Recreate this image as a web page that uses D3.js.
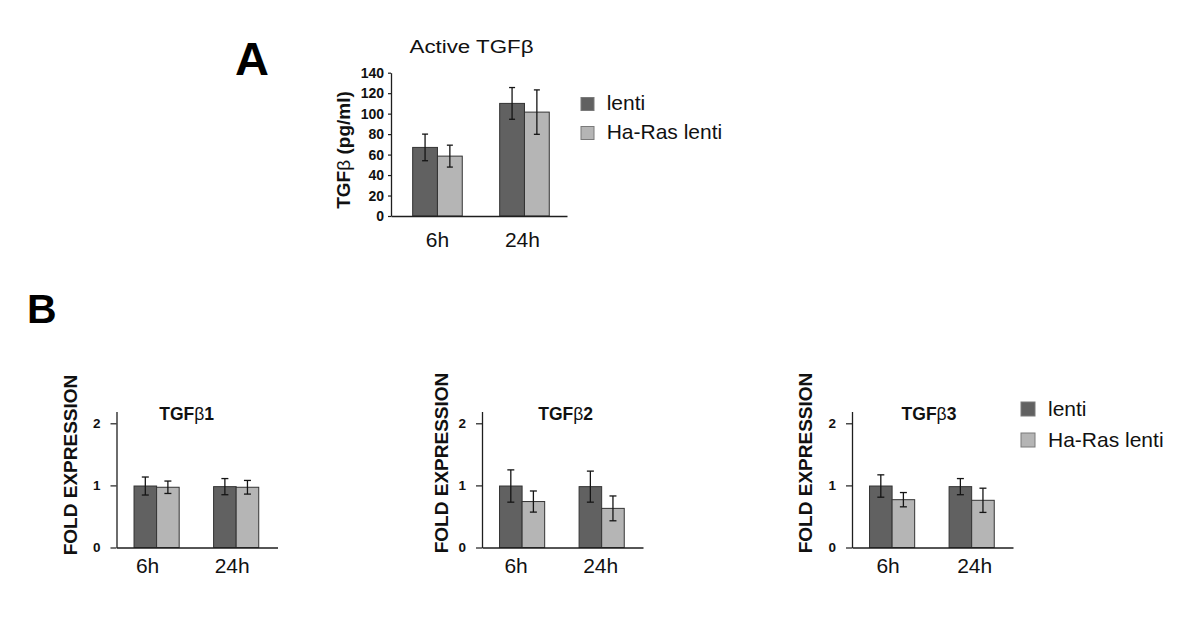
<!DOCTYPE html>
<html>
<head>
<meta charset="utf-8">
<script src="https://cdn.jsdelivr.net/npm/d3@7"></script>
<style>
  html, body { margin: 0; padding: 0; background: #fff; }
  svg { display: block; font-family: "Liberation Sans", Arial, sans-serif; }
</style>
</head>
<body>
<svg id="chart" width="1200" height="619"></svg>
<script>
// ---------- DATA ----------
const groups = ["6h", "24h"];
const seriesNames = ["lenti", "Ha-Ras lenti"];

// Panel A: Active TGFβ (pg/ml)
const activeLenti = [67, 110];
const activeLentiErr = [13, 15.5];
const activeRas = [58.5, 101.5];
const activeRasErr = [10.7, 21.7];
const activeTicks = [0, 20, 40, 60, 80, 100, 120, 140];

// Panel B: fold expression
const panelTitles = ["1", "2", "3"]; // TGFβ + suffix
const foldLenti = [[0.99, 0.98], [0.99, 0.98], [0.99, 0.98]];
const foldLentiErr = [[0.145, 0.13], [0.26, 0.25], [0.18, 0.13]];
const foldRas = [[0.97, 0.97], [0.74, 0.63], [0.77, 0.76]];
const foldRasErr = [[0.10, 0.11], [0.17, 0.20], [0.115, 0.195]];
const foldTicks = [0, 1, 2];

// ---------- STYLE / LAYOUT ----------
const colors = ["#616161", "#b5b5b5"];
const legendStroke = "#7a7a7a";
const barStroke = "#333";
const axisColor = "#1e1e1e";

const svg = d3.select("#chart");

function drawErr(g, cx, yv, e, y, cap) {
  g.append("line").attr("x1", cx).attr("x2", cx)
    .attr("y1", y(yv + e)).attr("y2", y(yv - e))
    .attr("stroke", "#151515").attr("stroke-width", 1.3);
  [yv + e, yv - e].forEach(v => {
    g.append("line").attr("x1", cx - cap).attr("x2", cx + cap)
      .attr("y1", y(v)).attr("y2", y(v))
      .attr("stroke", "#151515").attr("stroke-width", 1.3);
  });
}

function drawPanel(opt) {
  const g = svg.append("g");
  const x = d3.scaleBand().domain(groups).range([opt.x0, opt.x1])
    .paddingInner(opt.pi).paddingOuter(opt.po).align(opt.align);
  const xs = d3.scaleBand().domain(d3.range(seriesNames.length)).range([0, x.bandwidth()]);
  const y = d3.scaleLinear().domain(opt.domain).range([opt.yb, opt.yt]);

  const vals = [opt.lenti, opt.ras];
  const errs = [opt.lentiErr, opt.rasErr];

  // bars
  seriesNames.forEach((s, si) => {
    groups.forEach((grp, gi) => {
      const v = vals[si][gi];
      g.append("rect")
        .attr("x", x(grp) + xs(si))
        .attr("y", y(v))
        .attr("width", xs.bandwidth())
        .attr("height", y(0) - y(v))
        .attr("fill", colors[si])
        .attr("stroke", barStroke)
        .attr("stroke-width", 1);
    });
  });
  // error bars
  seriesNames.forEach((s, si) => {
    groups.forEach((grp, gi) => {
      drawErr(g, x(grp) + xs(si) + xs.bandwidth() / 2, vals[si][gi], errs[si][gi], y, opt.cap);
    });
  });

  // y axis
  const ya = g.append("g")
    .attr("transform", `translate(${opt.x0},0)`)
    .call(d3.axisLeft(y).tickValues(opt.ticks).tickSize(opt.tickSize)
      .tickSizeOuter(0).tickPadding(opt.tickPad).tickFormat(d3.format("d")));
  ya.select(".domain").attr("stroke", axisColor).attr("stroke-width", 1.3);
  ya.selectAll(".tick line").attr("stroke", axisColor).attr("stroke-width", 1.2);
  ya.selectAll(".tick text").attr("fill", "#111")
    .style("font-size", opt.tickFont + "px").style("font-weight", "bold")
    .style("font-family", "'Liberation Sans', Arial, sans-serif");

  // x axis line
  const xa = g.append("g")
    .attr("transform", `translate(0,${opt.yb})`)
    .call(d3.axisBottom(x).tickSize(0).tickFormat(""));
  xa.select(".domain").attr("stroke", axisColor).attr("stroke-width", 1.3);
  xa.selectAll(".tick").remove();

  // x labels
  groups.forEach((grp, gi) => {
    g.append("text")
      .attr("x", x(grp) + x.bandwidth() / 2 + opt.labelDx[gi])
      .attr("y", opt.labelY)
      .attr("text-anchor", "middle")
      .style("font-size", "21px")
      .attr("fill", "#111")
      .text(grp);
  });
  return { g, x, y };
}

function legend(x, y, gap, size, textX, base) {
  seriesNames.forEach((s, i) => {
    svg.append("rect").attr("x", x).attr("y", y + i * gap)
      .attr("width", size).attr("height", size)
      .attr("fill", colors[i]).attr("stroke", legendStroke).attr("stroke-width", 1);
    svg.append("text").attr("x", textX).attr("y", base + i * gap)
      .style("font-size", "21px").attr("fill", "#111").text(s);
  });
}

// ---------- PANEL A ----------
svg.append("text").attr("x", 235).attr("y", 75)
  .style("font-size", "47px").style("font-weight", "bold").attr("fill", "#000").text("A");

svg.append("text").attr("x", 471.5).attr("y", 53).attr("text-anchor", "middle")
  .attr("textLength", 124).attr("lengthAdjust", "spacingAndGlyphs")
  .style("font-size", "18px").attr("fill", "#111").text("Active TGFβ");

drawPanel({
  x0: 391, x1: 567, pi: 0.43, po: 0.2264, align: 0.55,
  domain: [0, 140], yb: 216, yt: 72.7,
  lenti: activeLenti, lentiErr: activeLentiErr, ras: activeRas, rasErr: activeRasErr,
  ticks: activeTicks, tickSize: 3, tickPad: 4, tickFont: 14, cap: 3,
  labelY: 246.7, labelDx: [0, -2]
});

const yA = svg.append("text")
  .attr("transform", "translate(350,150) rotate(-90)")
  .attr("text-anchor", "middle")
  .style("font-size", "19px").style("font-weight", "bold").attr("fill", "#111");
yA.append("tspan").text("TGF");
yA.append("tspan").style("font-weight", "normal").text("β");
yA.append("tspan").text(" (pg/ml)");

legend(581, 97.5, 29, 13, 606.7, 110);

// ---------- PANEL B ----------
svg.append("text").attr("x", 27).attr("y", 322.7)
  .style("font-size", "41px").style("font-weight", "bold").attr("fill", "#000").text("B");

const bLayout = [
  { x0: 116.5, labelX: 77, labelY: 465, titleX: 186.6, labelDx: [-9, -4] },
  { x0: 482, labelX: 448, labelY: 463, titleX: 565.7, labelDx: [-6, -1] },
  { x0: 852, labelX: 811.5, labelY: 463, titleX: 929, labelDx: [-4, 3] }
];

bLayout.forEach((L, i) => {
  drawPanel({
    x0: L.x0, x1: L.x0 + 161, pi: 0.4325, po: 0.228, align: 0.483,
    domain: [0, 2.19], yb: 547.5, yt: 547.5 - 2.19 * 62.1,
    lenti: foldLenti[i], lentiErr: foldLentiErr[i], ras: foldRas[i], rasErr: foldRasErr[i],
    ticks: foldTicks, tickSize: 6, tickPad: 10, tickFont: 13.5, cap: 3.5,
    labelY: 573.3, labelDx: L.labelDx
  });
  const t = svg.append("text").attr("x", L.titleX).attr("y", 420)
    .attr("text-anchor", "middle")
    .style("font-size", "17.5px").style("font-weight", "bold").attr("fill", "#111");
  t.append("tspan").text("TGF");
  t.append("tspan").style("font-weight", "normal").text("β");
  t.append("tspan").text(panelTitles[i]);

  svg.append("text")
    .attr("transform", `translate(${L.labelX},${L.labelY}) rotate(-90)`)
    .attr("text-anchor", "middle")
    .style("font-size", "19px").style("font-weight", "bold").attr("fill", "#111")
    .text("FOLD EXPRESSION");
});

legend(1021, 402, 31, 14, 1048, 415.7);
</script>
</body>
</html>
